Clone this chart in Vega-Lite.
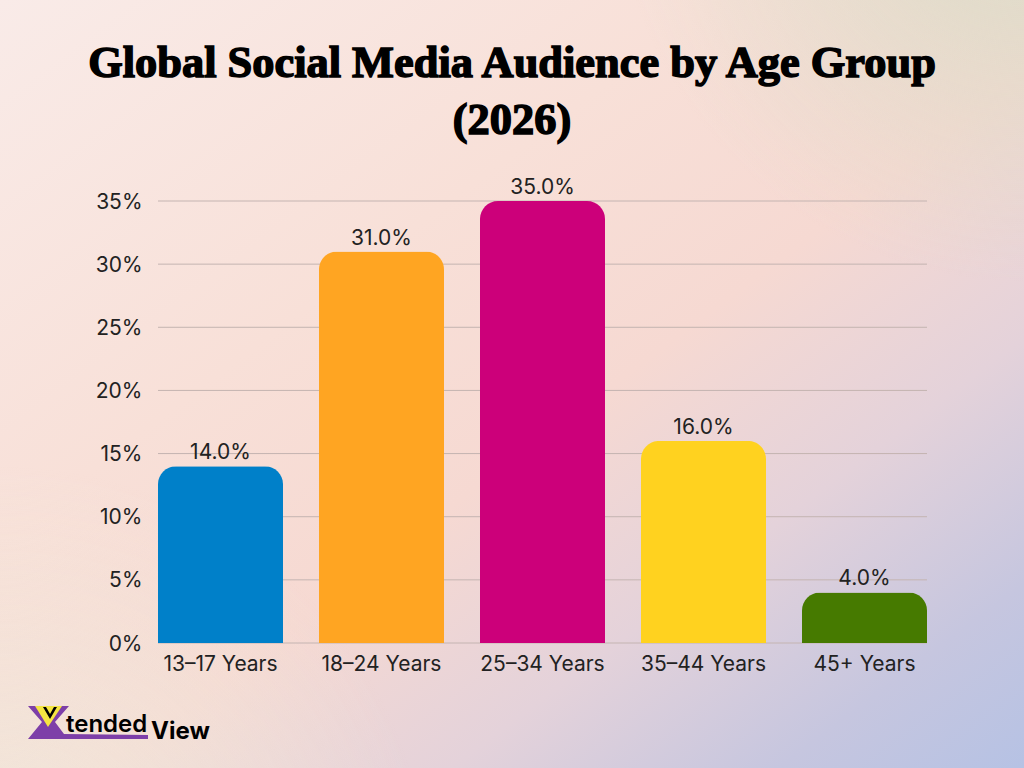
{
"$schema":"https://vega.github.io/schema/vega-lite/v6.json",
"width":769,"height":442,
"autosize":{"type":"none"},
"padding":{"left":158,"top":201,"right":97,"bottom":125},
"title":{"text":["Global Social Media Audience by Age Group","(2026)"],"font":"Liberation Serif","fontWeight":"bold","fontSize":44.4,"lineHeight":57,"color":"#000000","frame":"group","anchor":"middle","dx":-30.5,"offset":-143.5,"zindex":1,"style":"fat"},
"config":{"view":{"stroke":null},"font":"Inter","style":{"fat":{"stroke":"#000000","strokeWidth":1.5}}},
"data":{"values":[
{"age":"13–17 Years","share":0.14},
{"age":"18–24 Years","share":0.31},
{"age":"25–34 Years","share":0.35},
{"age":"35–44 Years","share":0.16},
{"age":"45+ Years","share":0.04}
]},
"layer":[
{"data":{"values":[{"backdrop":"base"}]},
"mark":{"type":"rect","color":{"gradient":"linear","x1":0,"y1":0,"x2":1,"y2":1,"stops":[{"offset":0,"color":"#f9ebe8"},{"offset":0.35,"color":"#f8e0d8"},{"offset":0.55,"color":"#f6d9d2"},{"offset":0.72,"color":"#e4d2da"},{"offset":0.88,"color":"#c6c6df"},{"offset":1,"color":"#b6c2e4"}]}},
"encoding":{"x":{"value":-158},"x2":{"value":866},"y":{"value":-201},"y2":{"value":567}}},
{"data":{"values":[{"backdrop":"corner"}]},
"mark":{"type":"rect","color":{"gradient":"radial","x1":1,"y1":0,"r1":0,"x2":1,"y2":0,"r2":0.4,"stops":[{"offset":0,"color":"rgba(212,220,196,0.85)"},{"offset":1,"color":"rgba(212,220,196,0)"}]}},
"encoding":{"x":{"value":-158},"x2":{"value":866},"y":{"value":-201},"y2":{"value":567}}},
{"data":{"values":[{"backdrop":"corner"}]},
"mark":{"type":"rect","color":{"gradient":"radial","x1":0,"y1":1,"r1":0,"x2":0,"y2":1,"r2":0.42,"stops":[{"offset":0,"color":"rgba(238,238,222,0.7)"},{"offset":1,"color":"rgba(238,238,222,0)"}]}},
"encoding":{"x":{"value":-158},"x2":{"value":866},"y":{"value":-201},"y2":{"value":567}}},
{"data":{"values":[{"tick":0},{"tick":0.05},{"tick":0.1},{"tick":0.15},{"tick":0.2},{"tick":0.25},{"tick":0.3},{"tick":0.35}]},
"mark":{"type":"rule","color":"#c4b4b1","strokeWidth":1},
"encoding":{"y":{"field":"tick","type":"quantitative"},"x":{"value":0},"x2":{"value":769}}},
{"mark":{"type":"bar","cornerRadiusTopLeft":18,"cornerRadiusTopRight":18},
"encoding":{
"x":{"field":"age","type":"nominal","sort":null,"title":null,"scale":{"paddingInner":0.2236,"paddingOuter":0},"axis":{"labelAngle":0,"labelFont":"Inter","labelFontSize":21,"labelColor":"#222222","labelPadding":10,"ticks":false,"domain":false,"grid":false,"zindex":1}},
"y":{"field":"share","type":"quantitative","title":null,"scale":{"domain":[0,0.35],"nice":false},"axis":{"values":[0,0.05,0.1,0.15,0.2,0.25,0.3,0.35],"format":".0%","labelFont":"Inter","labelFontSize":21,"labelColor":"#222222","labelPadding":16,"labelOffset":1,"ticks":false,"domain":false,"grid":false,"zindex":1}},
"color":{"field":"age","type":"nominal","sort":null,"legend":null,"scale":{"range":["#0080c9","#ffa522","#cc007a","#ffd21f","#467a00"]}}
}},
{"mark":{"type":"text","font":"Inter","fontSize":21,"color":"#222222","baseline":"bottom","dy":-3},
"encoding":{
"x":{"field":"age","type":"nominal","sort":null},
"y":{"field":"share","type":"quantitative"},
"text":{"field":"share","type":"quantitative","format":".1%"}
}},
{"data":{"values":[{"logo":"mark"}]},
"mark":{"type":"point","filled":true,"opacity":1,"color":"#7d3fa8","size":14400,"shape":"M-1,-0.275 L-0.317,-0.275 L-0.55,-0.008 L-0.4,0.192 L1,0.208 L1,0.275 L-1,0.275 L-0.767,-0.008 Z"},
"encoding":{"x":{"value":-70},"y":{"value":521.5}}},
{"data":{"values":[{"logo":"mark"}]},
"mark":{"type":"point","filled":true,"opacity":1,"color":"#f5e642","size":14400,"shape":"M-0.883,-0.275 L-0.433,-0.275 L-0.667,0.075 Z"},
"encoding":{"x":{"value":-70},"y":{"value":521.5}}},
{"data":{"values":[{"logo":"mark"}]},
"mark":{"type":"point","filled":true,"opacity":1,"color":"#000000","size":14400,"shape":"M-0.75,-0.26 L-0.7,-0.26 L-0.633,-0.14 L-0.567,-0.26 L-0.517,-0.26 L-0.633,-0.06 Z"},
"encoding":{"x":{"value":-70},"y":{"value":521.5}}},
{"data":{"values":[{"logo":"tended"}]},
"mark":{"type":"text","font":"Inter","fontWeight":600,"fontSize":24,"color":"#000000","align":"left","baseline":"alphabetic"},
"encoding":{"x":{"value":-92},"y":{"value":531},"text":{"field":"logo"}}},
{"data":{"values":[{"logo":"View"}]},
"mark":{"type":"text","font":"Inter","fontWeight":700,"fontSize":24,"color":"#000000","align":"left","baseline":"alphabetic"},
"encoding":{"x":{"value":-7},"y":{"value":538},"text":{"field":"logo"}}}
]
}
